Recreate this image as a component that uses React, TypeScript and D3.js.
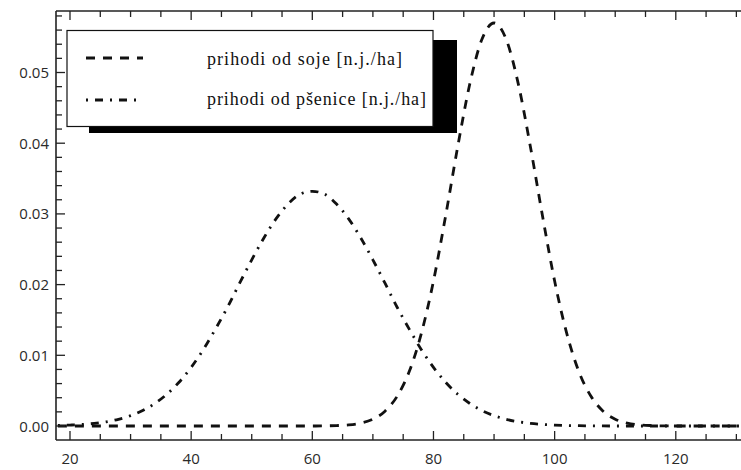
import React from "react";
import * as d3 from "d3";

// Sample positions (x, n.j./ha)
const xValues = [
  18, 20, 22, 24, 26, 28, 30, 32, 34, 36, 38, 40, 42, 44, 46, 48, 50, 52, 54, 56,
  58, 60, 62, 64, 66, 68, 70, 72, 74, 76, 78, 80, 82, 84, 86, 88, 90, 92, 94, 96,
  98, 100, 102, 104, 106, 108, 110, 112, 114, 116, 118, 120, 122, 124, 126, 128, 130, 132,
];

// prihodi od soje – density
const sojaValues = [
  0, 0, 0, 0, 0, 0, 0, 0, 0, 0, 0, 0, 0, 0, 0, 0, 0, 0, 0, 0,
  0, 0, 0.00002, 0.00006, 0.00016, 0.00041, 0.00096, 0.0021, 0.0042, 0.0077,
  0.0131, 0.0205, 0.0297, 0.0395, 0.0484, 0.0547, 0.057, 0.0547, 0.0484, 0.0395,
  0.0297, 0.0205, 0.0131, 0.0077, 0.0042, 0.0021, 0.00096, 0.00041, 0.00016, 0.00006,
  0.00002, 0, 0, 0, 0, 0, 0, 0,
];

// prihodi od pšenice – density
const psenicaValues = [
  0.00007, 0.00013, 0.00022, 0.00037, 0.0006, 0.00095, 0.00146, 0.00218, 0.00318, 0.0045,
  0.00619, 0.00829, 0.0108, 0.0137, 0.0168, 0.0202, 0.0235, 0.0266, 0.0293, 0.0314,
  0.0328, 0.0332, 0.0328, 0.0314, 0.0293, 0.0266, 0.0235, 0.0202, 0.0168, 0.0137,
  0.0108, 0.00829, 0.00619, 0.0045, 0.00318, 0.00218, 0.00146, 0.00095, 0.0006, 0.00037,
  0.00022, 0.00013, 0.00007, 0.00004, 0.00002, 0.00001, 0, 0, 0, 0,
  0, 0, 0, 0, 0, 0, 0, 0,
];

const xMajorTicks = [20, 40, 60, 80, 100, 120];
const xMinorTicks = [25, 30, 35, 45, 50, 55, 65, 70, 75, 85, 90, 95, 105, 110, 115, 125, 130];
const yMajorTicks = [0, 0.01, 0.02, 0.03, 0.04, 0.05];
const yTickLabels = ["0.00", "0.01", "0.02", "0.03", "0.04", "0.05"];
const yMinorTicks = [
  0.002, 0.004, 0.006, 0.008, 0.012, 0.014, 0.016, 0.018, 0.022, 0.024, 0.026, 0.028,
  0.032, 0.034, 0.036, 0.038, 0.042, 0.044, 0.046, 0.048, 0.052, 0.054, 0.056, 0.058,
];

const legendLabels = ["prihodi od soje [n.j./ha]", "prihodi od pšenice [n.j./ha]"];

const W = 741;
const H = 470;
const left = 56;
const right = 760;
const top = 11;
const bottom = 440;

export default function App() {
  const x = d3.scaleLinear().domain([17.69, 133.9]).range([left, right]);
  const y = d3.scaleLinear().domain([-0.00198, 0.0587]).range([bottom, top]);

  const line = (vals: number[]) =>
    d3
      .line<number>()
      .x((_, i) => x(xValues[i]))
      .y((d) => y(d))
      .curve(d3.curveMonotoneX)(vals) || "";

  const sojaDash = "9,8";
  const psenicaDash = "2,7,8,7";
  const ink = "#111";
  const tickFont = "'Open Sans', 'Noto Sans', sans-serif";
  const serif = "'Liberation Serif', 'DejaVu Serif', serif";

  return (
    <svg
      width={W}
      height={H}
      style={{ position: "absolute", left: 0, top: 0, background: "#fff" }}
    >
      <defs>
        <clipPath id="plot">
          <rect x={left} y={top} width={right - left} height={bottom - top} />
        </clipPath>
      </defs>
      <rect x={0} y={0} width={W} height={H} fill="#fff" />

      {/* curves */}
      <g clipPath="url(#plot)" fill="none" stroke={ink} strokeWidth={2.8}>
        <path d={line(psenicaValues)} strokeDasharray={psenicaDash} />
        <path d={line(sojaValues)} strokeDasharray={sojaDash} />
      </g>

      {/* frame */}
      <g stroke="#222" strokeWidth={1.6} fill="none">
        <line x1={left} x2={left} y1={top} y2={bottom} />
        <line x1={left} x2={right} y1={top} y2={top} />
        <line x1={left} x2={right} y1={bottom} y2={bottom} />
        <line x1={right} x2={right} y1={top} y2={bottom} />
      </g>

      {/* x ticks */}
      <g stroke="#222" strokeWidth={1.3}>
        {xMajorTicks.map((t) => (
          <g key={"xM" + t}>
            <line x1={x(t)} x2={x(t)} y1={bottom} y2={bottom - 9} />
            <line x1={x(t)} x2={x(t)} y1={top} y2={top + 9} />
          </g>
        ))}
        {xMinorTicks.map((t) => (
          <g key={"xm" + t}>
            <line x1={x(t)} x2={x(t)} y1={bottom} y2={bottom - 6} />
            <line x1={x(t)} x2={x(t)} y1={top} y2={top + 6} />
          </g>
        ))}
        {yMajorTicks.map((t) => (
          <line key={"yM" + t} x1={left} x2={left + 9} y1={y(t)} y2={y(t)} />
        ))}
        {yMinorTicks.map((t) => (
          <line key={"ym" + t} x1={left} x2={left + 6} y1={y(t)} y2={y(t)} />
        ))}
      </g>

      {/* tick labels */}
      <g fill="#2a2a2a" fontFamily={tickFont} fontSize={15}>
        {xMajorTicks.map((t) => (
          <text key={"xl" + t} x={x(t)} y={bottom + 24} textAnchor="middle">
            {t}
          </text>
        ))}
        {yMajorTicks.map((t, i) => (
          <text key={"yl" + t} x={left - 7} y={y(t) + 5.5} textAnchor="end">
            {yTickLabels[i]}
          </text>
        ))}
      </g>

      {/* legend */}
      <rect x={89} y={40} width={368} height={93} fill="#000" />
      <rect x={67} y={30.5} width={366} height={96} fill="#fff" stroke="#111" strokeWidth={1.2} />
      <line x1={86} x2={143} y1={58} y2={58} stroke={ink} strokeWidth={2.8} strokeDasharray={sojaDash} />
      <line x1={86} x2={143} y1={100} y2={100} stroke={ink} strokeWidth={2.8} strokeDasharray={psenicaDash} />
      <g fontFamily={serif} fontSize={18} fill="#111">
        <text x={207} y={65} textLength={195} lengthAdjust="spacing">
          {legendLabels[0]}
        </text>
        <text x={207} y={105} textLength={219} lengthAdjust="spacing">
          {legendLabels[1]}
        </text>
      </g>
    </svg>
  );
}
